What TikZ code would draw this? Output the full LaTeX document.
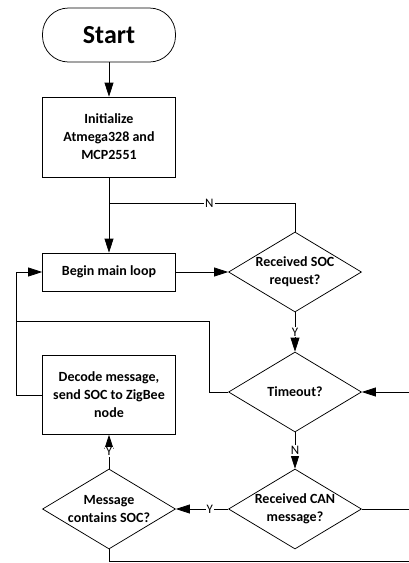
\documentclass[tikz,border=0pt]{standalone}
\usepackage{fontspec}
\setmainfont{Carlito}
\usetikzlibrary{arrows.meta, shapes.geometric}

\tikzset{
	term/.style = {draw, rectangle, rounded corners = 26pt, minimum width = 133pt, minimum height = 54pt, font = \fontsize{26}{30}\selectfont\bfseries},
	proc/.style = {draw, rectangle, minimum width = 133pt, align = center, font = \fontsize{14}{18}\selectfont\bfseries},
	decis/.style = {draw, diamond, aspect = 1.66, inner xsep = -30pt, inner ysep = -10pt, minimum width = 133pt, minimum height = 80pt, align = center, font = \fontsize{14}{18}\selectfont\bfseries},
	lbl/.style = {fill = white, inner sep = 1pt, font = \fontsize{13}{15}\selectfont},
	flow/.style = {-{Triangle[length = 14pt, width = 9pt]}}
}

\begin{document}
\begin{tikzpicture}[x = 1pt, y = -1pt, line width = 0.75pt]

	\useasboundingbox (0, 0) rectangle (409, 563);

	% Left column
	
	\node [term] (start) at (109, 35) {Start};
	\node [proc, minimum height = 80pt] (init) at (109, 137) {Initialize\\Atmega328 and\\MCP2551};
	\node [proc, minimum height = 38pt] (begin) at (109, 272) {Begin main loop};
	\node [proc, minimum height = 79pt] (decode) at (109, 395) {Decode message,\\send SOC to ZigBee\\node};
	\node [decis] (msg) at (109, 509) {Message\\contains SOC?};
	
	% Right column
	
	\node [decis] (soc) at (295, 272) {Received SOC\\request?};
	\node [decis] (timeout) at (295, 392) {Timeout?};
	\node [decis] (can) at (295, 509) {Received CAN\\message?};
	
	% Loose ends
	
	\coordinate (joinN) at (109, 203);
	\coordinate (loopL) at (16, 321);
	\coordinate (inR) at (409, 392);
	\coordinate (canR) at (409, 509);
	\coordinate (botR) at (409, 561.5);
	
	% Connectors
	
	\draw [flow] (start) -- (init);
	\draw [flow] (init) -- (begin);
	\draw (soc.north) |- node [lbl, pos = 0.73] {N} (joinN);
	\draw [flow] (begin) -- (soc);
	\draw [flow] (soc) -- node [lbl] {Y} (timeout);
	\draw (timeout.west) -- ++(-19, 0) |- (loopL);
	\draw [flow] (decode.west) -- ++(-26, 0) |- (begin.west);
	\draw [flow] (inR) -- (timeout.east);
	\draw [flow] (timeout) -- node [lbl] {N} (can);
	\draw [flow] (can) -- node [lbl, pos = 0.35] {Y} (msg);
	\draw [flow] (msg) -- node [lbl] {Y} (decode);
	\draw (can.east) -- (canR);
	\draw (msg.south) |- (botR);

\end{tikzpicture}
\end{document}
